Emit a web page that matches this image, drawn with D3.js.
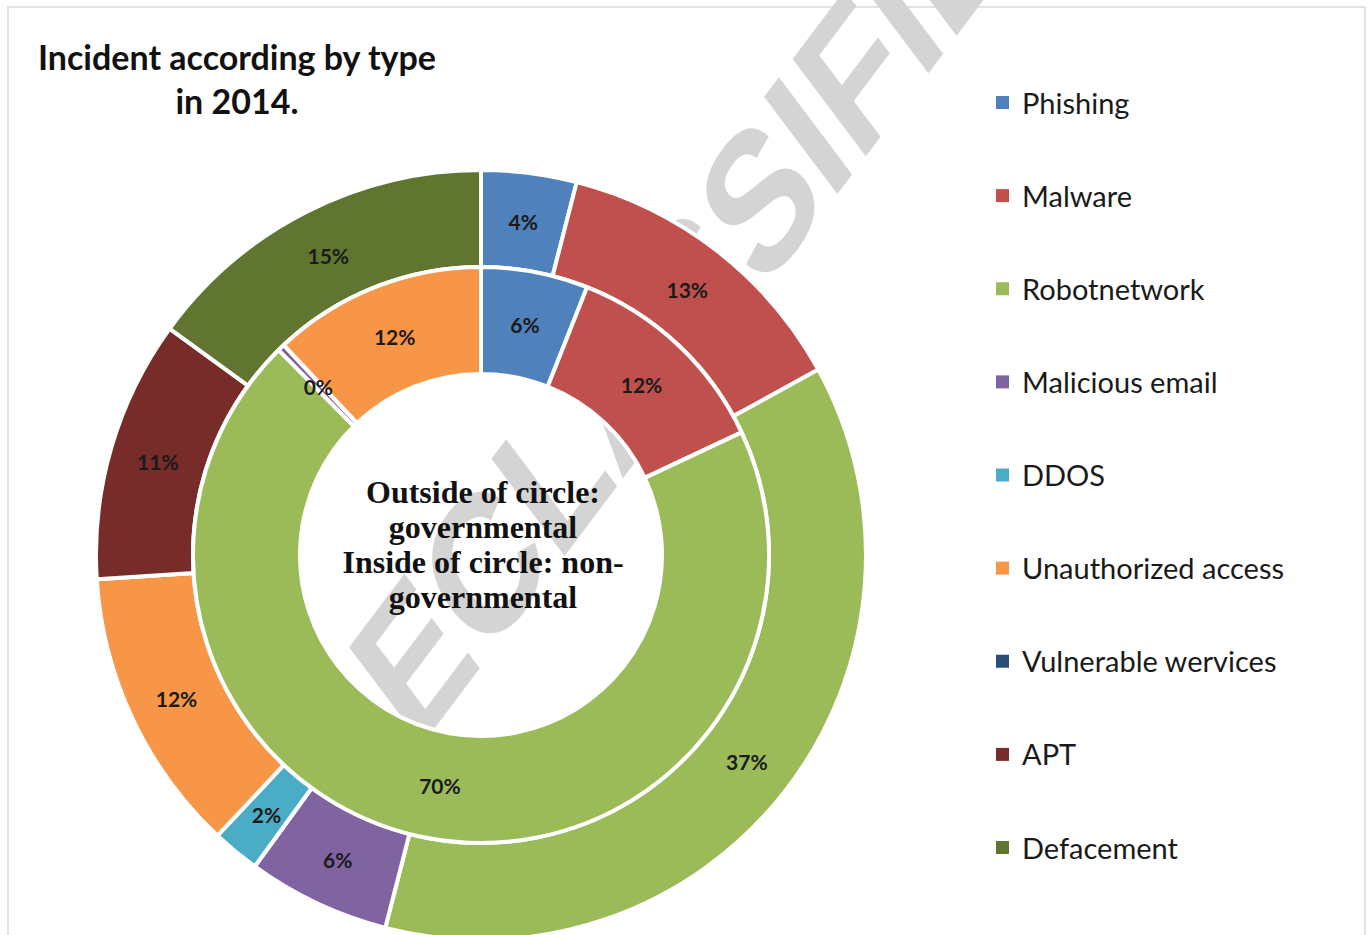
<!DOCTYPE html>
<html>
<head>
<meta charset="utf-8">
<script src="https://cdn.jsdelivr.net/npm/d3@7"></script>
<style>
  html, body { margin: 0; padding: 0; background: #fff; }
  svg { display: block; }
</style>
</head>
<body>
<div id="chart"></div>
<script>
// incident types, same order for both rings
const categories = ['Phishing', 'Malware', 'Robotnetwork', 'Malicious email', 'DDOS',
    'Unauthorized access', 'Vulnerable wervices', 'APT', 'Defacement'];
const colors = ['#4f81bd', '#c0504d', '#9bbb59', '#8064a2', '#4bacc6',
    '#f79646', '#2c4d75', '#772c2a', '#5f7530'];

// outer ring: governmental, inner ring: non-governmental (percent)
const governmental = [4, 13, 37, 6, 2, 12, 0, 11, 15];
const nonGovernmental = [6, 12, 69.6, 0.4, 0, 12, 0, 0, 0];

const titleLines = ['Incident according by type', 'in 2014.'];
const centerLines = ['Outside of circle:', 'governmental', 'Inside of circle: non-', 'governmental'];

const W = 1372, H = 935;
const cx = 481, cy = 555;

const svg = d3.select('#chart').append('svg')
    .attr('width', W).attr('height', H);

// chart frame
svg.append('rect')
    .attr('x', 8).attr('y', 7).attr('width', 1357).attr('height', 960)
    .attr('fill', '#fff').attr('stroke', '#d9d9d9').attr('stroke-width', 1.5);

// watermark sits behind the rings
svg.append('text')
    .attr('transform', 'translate(680,305) rotate(-53) skewX(-16)')
    .attr('text-anchor', 'middle')
    .attr('dominant-baseline', 'central')
    .style('font', 'bold 170px "Liberation Sans", Arial, sans-serif')
    .attr('fill', '#d4d4d4')
    .text('DECLASSIFIED');

const pie = d3.pie().sort(null).value(d => d);
const color = d3.scaleOrdinal().domain(categories).range(colors);
const pct = v => Math.round(v) + '%';

const rings = [
    { values: governmental, inner: 288, outer: 385 },
    { values: nonGovernmental, inner: 181, outer: 288 }
];

const g = svg.append('g').attr('transform', `translate(${cx},${cy})`);

rings.forEach(ring => {
    const arc = d3.arc().innerRadius(ring.inner).outerRadius(ring.outer);
    const total = d3.sum(ring.values);
    const arcs = pie(ring.values);

    g.append('g').selectAll('path')
        .data(arcs)
        .join('path')
        .attr('d', arc)
        .attr('fill', (d, i) => color(categories[i]))
        .attr('stroke', '#fff')
        .attr('stroke-width', 4)
        .attr('stroke-linejoin', 'round');

    g.append('g').selectAll('text')
        .data(arcs.filter(d => d.data > 0))
        .join('text')
        .attr('transform', d => `translate(${arc.centroid(d)})`)
        .attr('text-anchor', 'middle')
        .attr('dominant-baseline', 'central')
        .style('font', 'bold 21px Lato, "Open Sans", sans-serif')
        .attr('fill', '#1a1a1a')
        .text(d => pct(d.data / total * 100));
});

// centre note
g.append('g').selectAll('text')
    .data(centerLines)
    .join('text')
    .attr('x', 2)
    .attr('y', (d, i) => -52 + i * 35)
    .attr('text-anchor', 'middle')
    .style('font', 'bold 32px "Liberation Serif", "DejaVu Serif", serif')
    .attr('fill', '#111')
    .text(d => d);

// title
svg.append('g').selectAll('text')
    .data(titleLines)
    .join('text')
    .attr('x', 237)
    .attr('y', (d, i) => 70 + i * 44)
    .attr('text-anchor', 'middle')
    .style('font', 'bold 34px Lato, "Open Sans", sans-serif')
    .attr('fill', '#111')
    .text(d => d);

// legend
const legendY = d3.scalePoint().domain(categories).range([102, 847]);
const legend = svg.append('g').selectAll('g')
    .data(categories)
    .join('g')
    .attr('transform', d => `translate(996,${legendY(d)})`);

legend.append('rect')
    .attr('x', 0).attr('y', -6).attr('width', 13).attr('height', 13)
    .attr('fill', d => color(d));

legend.append('text')
    .attr('x', 26).attr('y', 0)
    .attr('dominant-baseline', 'central')
    .style('font', '29px Lato, "Open Sans", sans-serif')
    .attr('fill', '#1a1a1a')
    .text(d => d);
</script>
</body>
</html>
